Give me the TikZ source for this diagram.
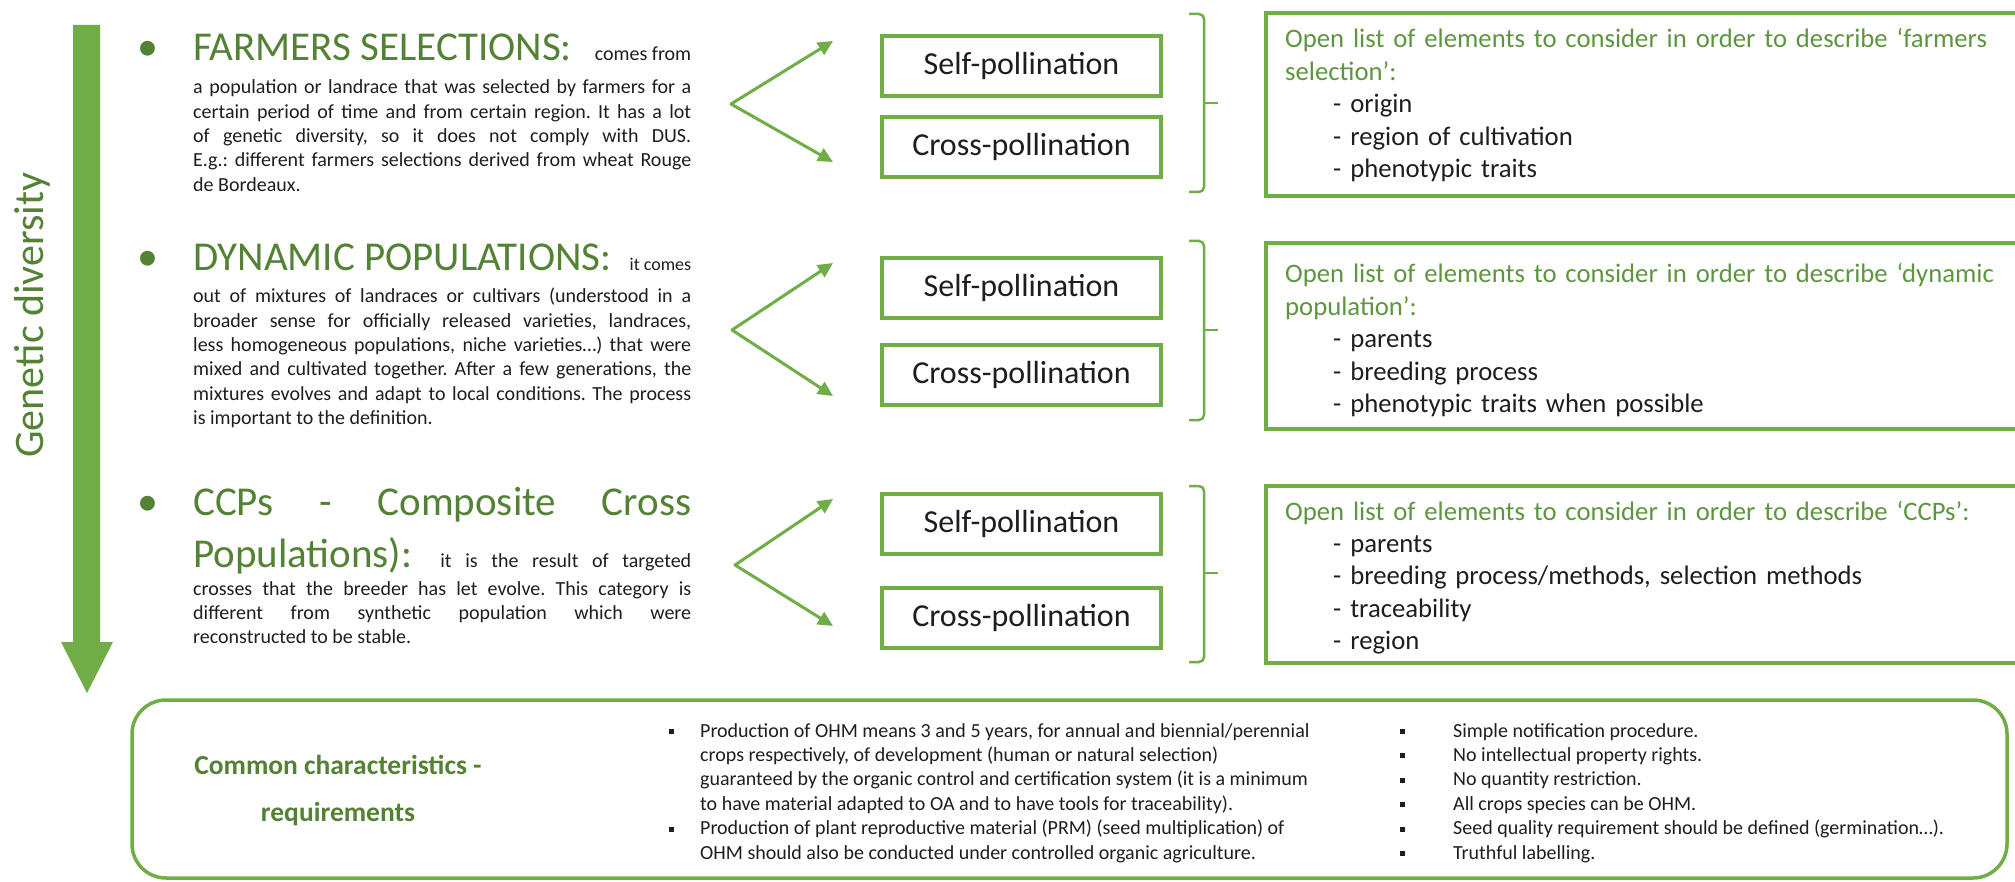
\documentclass[tikz,border=0pt]{standalone}
\usepackage{fontspec}
\setmainfont{Carlito}
\usetikzlibrary{arrows.meta}
\definecolor{agreen}{HTML}{70AD47}
\definecolor{dgreen}{HTML}{548235}
\definecolor{lgreen}{HTML}{5E9640}
\definecolor{txt}{HTML}{1E1E1E}
\newcommand{\hdrfont}{\fontsize{41}{48}\selectfont}
\newcommand{\smallfont}{\fontsize{18}{22}\selectfont}
\newcommand{\bodyfont}{\fontsize{20}{24.3}\selectfont}
\newcommand{\listfont}{\fontsize{26.7}{32.4}\selectfont}
\newcommand{\pollfont}{\fontsize{32}{38}\selectfont}
\newcommand{\btfont}{\fontsize{20}{24.4}\selectfont}
\newcommand{\ttlfont}{\fontsize{27.5}{33}\selectfont\bfseries}
\newcommand{\sqb}{\rule[3pt]{5pt}{5pt}}
\frenchspacing
\begin{document}
\begin{tikzpicture}[x=1pt,y=-1pt,
  pbox/.style={draw=agreen, line width=3.5pt, minimum width=279pt, minimum height=60pt, inner sep=0pt, font=\pollfont, text=txt},
  lbox/.style={draw=agreen, line width=3.5pt, inner sep=0pt},
  chev/.style={draw=agreen, line width=3pt, line cap=round, -{Triangle[length=15pt,width=14pt]}},
  brk/.style={draw=agreen, line width=2.5pt, rounded corners=5pt},
  bodytext/.style={anchor=base west, inner sep=0pt, text width=498pt, align=justify, font=\bodyfont, text=txt},
  hdr/.style={anchor=base west, inner sep=0pt, font=\hdrfont, text=dgreen},
  bul/.style={anchor=base, inner sep=0pt, font=\fontsize{42}{50}\selectfont, text=dgreen},
  listtext/.style={anchor=base west, inner sep=0pt, text width=720pt, align=left, font=\listfont, text=txt},
  ttl/.style={anchor=base, inner sep=0pt, font=\ttlfont, text=dgreen},
  btext/.style={anchor=base west, inner sep=0pt, font=\btfont, text=txt}
]
\useasboundingbox (0,0) rectangle (2015,882);
\fill[white] (0,0) rectangle (2015,882);

% big vertical arrow
\fill[agreen] (73,25) -- (100,25) -- (100,642) -- (113,642) -- (87,693) -- (61,642) -- (73,642) -- cycle;
\node[rotate=90, anchor=base, inner sep=0pt, font=\fontsize{42}{50}\selectfont, text=dgreen] (gd) at (43,315) {Genetic diversity};

% ---------- Section 1 ----------
\node[bul] (b1) at (148,61) {•};
\node[hdr] (h1) at (193,61) {\makebox[498pt][l]{FARMERS SELECTIONS:\hfill{\bodyfont\color{txt}comes from}}};
\node[bodytext] (t1) at (193,94) {a population or landrace that was selected by farmers for a\linebreak certain period of time and from certain region. It has a lot\linebreak of genetic diversity, so it does not comply with DUS.\linebreak E.g.: different farmers selections derived from wheat Rouge\linebreak de Bordeaux.};

% ---------- Section 2 ----------
\node[bul] (b2) at (148,271) {•};
\node[hdr] (h2) at (193,271) {\makebox[498pt][l]{DYNAMIC POPULATIONS:\hfill{\smallfont\color{txt}it comes}}};
\node[bodytext] (t2) at (193,303) {out of mixtures of landraces or cultivars (understood in a\linebreak broader sense for officially released varieties, landraces,\linebreak less homogeneous populations, niche varieties…) that were\linebreak mixed and cultivated together. After a few generations, the\linebreak mixtures evolves and adapt to local conditions. The process\linebreak is important to the definition.};

% ---------- Section 3 ----------
\node[bul] (b3) at (148,515) {•};
\node[hdr] (h3) at (193,515) {\makebox[498pt][s]{CCPs - Composite Cross}};
\node[hdr] (h3b) at (193,567) {\makebox[498pt][s]{Populations): {\bodyfont\color{txt}it is the result of targeted}}};
\node[bodytext] (t3) at (193,595) {crosses that the breeder has let evolve. This category is\linebreak different from synthetic population which were\linebreak reconstructed to be stable.};

% ---------- chevrons ----------
\coordinate (v1) at (731,104); \coordinate (u1) at (833,41); \coordinate (d1) at (833,162);
\coordinate (v2) at (732,330); \coordinate (u2) at (833,263); \coordinate (d2) at (833,396);
\coordinate (v3) at (735,565); \coordinate (u3) at (833,499); \coordinate (d3) at (833,626);
\draw[chev] (v1) -- (u1); \draw[chev] (v1) -- (d1);
\draw[chev] (v2) -- (u2); \draw[chev] (v2) -- (d2);
\draw[chev] (v3) -- (u3); \draw[chev] (v3) -- (d3);

% ---------- pollination boxes ----------
\node[pbox] (s1) at (1021.5,66) {Self-pollination};
\node[pbox] (c1) at (1021.5,147) {Cross-pollination};
\node[pbox] (s2) at (1021.5,288) {Self-pollination};
\node[pbox] (c2) at (1021.5,375) {Cross-pollination};
\node[pbox] (s3) at (1021.5,524) {Self-pollination};
\node[pbox] (c3) at (1021.5,618) {Cross-pollination};

% ---------- brackets ----------
\draw[brk] (1189,14) -- (1204,14) -- (1204,192) -- (1189,192);
\draw[agreen, line width=2.5pt] (1204,103) -- (1218,103);
\draw[brk] (1189,241) -- (1204,241) -- (1204,420) -- (1189,420);
\draw[agreen, line width=2.5pt] (1204,330) -- (1218,330);
\draw[brk] (1189,486) -- (1204,486) -- (1204,662) -- (1189,662);
\draw[agreen, line width=2.5pt] (1204,573) -- (1218,573);

% ---------- right list boxes ----------
\node[lbox, minimum width=754pt, minimum height=183pt] (L1) at (1643,104.5) {};
\node[lbox, minimum width=754pt, minimum height=186pt] (L2) at (1643,336) {};
\node[lbox, minimum width=754pt, minimum height=177pt] (L3) at (1643,574.5) {};

\node[listtext] (o1) at (1285,48) {{\color{lgreen}Open list of elements to consider in order to describe ‘farmers\\selection’:}\\\hspace*{48pt}- origin\\\hspace*{48pt}- region of cultivation\\\hspace*{48pt}- phenotypic traits};
\node[listtext] (o2) at (1285,283) {{\color{lgreen}Open list of elements to consider in order to describe ‘dynamic\\population’:}\\\hspace*{48pt}- parents\\\hspace*{48pt}- breeding process\\\hspace*{48pt}- phenotypic traits when possible};
\node[listtext] (o3) at (1285,520) {{\color{lgreen}Open list of elements to consider in order to describe ‘CCPs’:}\\\hspace*{48pt}- parents\\\hspace*{48pt}- breeding process/methods, selection methods\\\hspace*{48pt}- traceability\\\hspace*{48pt}- region};

% ---------- bottom box ----------
\node[draw=agreen, line width=3.5pt, rounded corners=34pt, minimum width=1875pt, minimum height=178pt, inner sep=0pt] (CB) at (1069.5,789) {};
\node[ttl] (ct1) at (338,774) {Common characteristics -};
\node[ttl] (ct2) at (338,821) {requirements};

\node[btext] (m1) at (669,737) {\begin{tabular}[t]{@{}p{31pt}@{}l@{}}
\sqb & Production of OHM means 3 and 5 years, for annual and biennial/perennial\\
 & crops respectively, of development (human or natural selection)\\
 & guaranteed by the organic control and certification system (it is a minimum\\
 & to have material adapted to OA and to have tools for traceability).\\
\sqb & Production of plant reproductive material (PRM) (seed multiplication) of\\
 & OHM should also be conducted under controlled organic agriculture.
\end{tabular}};

\node[btext] (r1) at (1400,737) {\begin{tabular}[t]{@{}p{53pt}@{}l@{}}
\sqb & Simple notification procedure.\\
\sqb & No intellectual property rights.\\
\sqb & No quantity restriction.\\
\sqb & All crops species can be OHM.\\
\sqb & Seed quality requirement should be defined (germination…).\\
\sqb & Truthful labelling.
\end{tabular}};
\end{tikzpicture}
\end{document}
